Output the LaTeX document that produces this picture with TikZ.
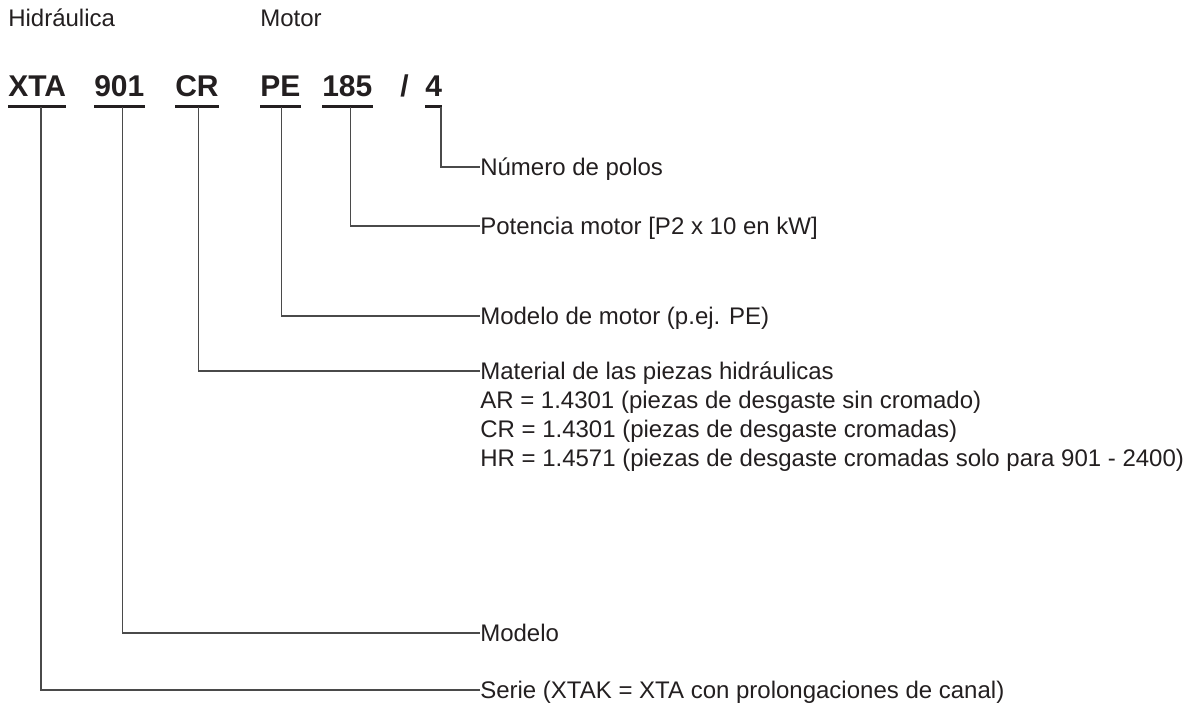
\documentclass[tikz,border=0pt]{standalone}
\usepackage{fontspec}
\setmainfont{Liberation Sans}
\usetikzlibrary{positioning}

\definecolor{ink}{HTML}{231F20}
\definecolor{wire}{HTML}{4A4A4A}

\begin{document}
\begin{tikzpicture}[
    x=0.75pt, y=-0.75pt,
    node distance=8.5pt,
    head/.style={anchor=base west, inner sep=0pt, text=ink, font=\fontsize{18}{21.6}\selectfont},
    code/.style={anchor=base west, inner sep=0pt, text=ink, font=\fontsize{22.5}{27}\selectfont\bfseries},
    desc/.style={anchor=west, inner sep=0pt, text=ink, text height=12.9pt, text depth=0pt, font=\fontsize{18}{21.6}\selectfont},
    uline/.style={draw=ink, line width=2.25pt},
    line/.style={draw=wire, line width=1.1pt}
]
    \useasboundingbox (0,0) rectangle (1195,706);

    % group titles
    \node [head] (hyd) at (8,27) {Hidráulica};
    \node [head] (mot) at (260,27) {Motor};

    % type key
    \node [code] (xta) at (8,97) {XTA};
    \node [code] (mdl) at (94,97) {901};
    \node [code] (mat) at (175,97) {CR};
    \node [code] (mod) at (260,97) {PE};
    \node [code] (pot) at (322,97) {185};
    \node [code] (sl) at (400,97) {/};
    \node [code] (pol) at (425,97) {4};

    \foreach \c in {xta,mdl,mat,mod,pot,pol}
        \path [uline] ([yshift=-7.5pt]\c.base west) -- ([yshift=-7.5pt]\c.base east);

    % explanations
    \node [desc] (npol) at (480,167) {Número de polos};
    \node [desc] (npot) at (480,226) {Potencia motor [P2 x 10 en kW]};
    \node [desc] (nmod) at (480,316) {Modelo de motor (p.ej. PE)};
    \node [desc] (nmat) at (480,371) {Material de las piezas hidráulicas};
    \node [desc, below=of nmat.south west, anchor=north west] (nar) {AR = 1.4301 (piezas de desgaste sin cromado)};
    \node [desc, below=of nar.south west, anchor=north west] (ncr) {CR = 1.4301 (piezas de desgaste cromadas)};
    \node [desc, below=of ncr.south west, anchor=north west] (nhr) {HR = 1.4571 (piezas de desgaste cromadas solo para 901 - 2400)};
    \node [desc] (nmdl) at (480,633) {Modelo};
    \node [desc] (nser) at (480,690) {Serie (XTAK = XTA con prolongaciones de canal)};

    \path [line] ([xshift=3pt, yshift=-7.5pt]xta.base) |- (nser.west);
    \path [line] ([xshift=2.5pt, yshift=-7.5pt]mdl.base) |- (nmdl.west);
    \path [line] ([xshift=1pt, yshift=-7.5pt]mat.base) |- (nmat.west);
    \path [line] ([xshift=1pt, yshift=-7.5pt]mod.base) |- (nmod.west);
    \path [line] ([xshift=2.5pt, yshift=-7.5pt]pot.base) |- (npot.west);
    \path [line] ([xshift=-1pt, yshift=-7.5pt]pol.base east) |- (npol.west);
\end{tikzpicture}
\end{document}
